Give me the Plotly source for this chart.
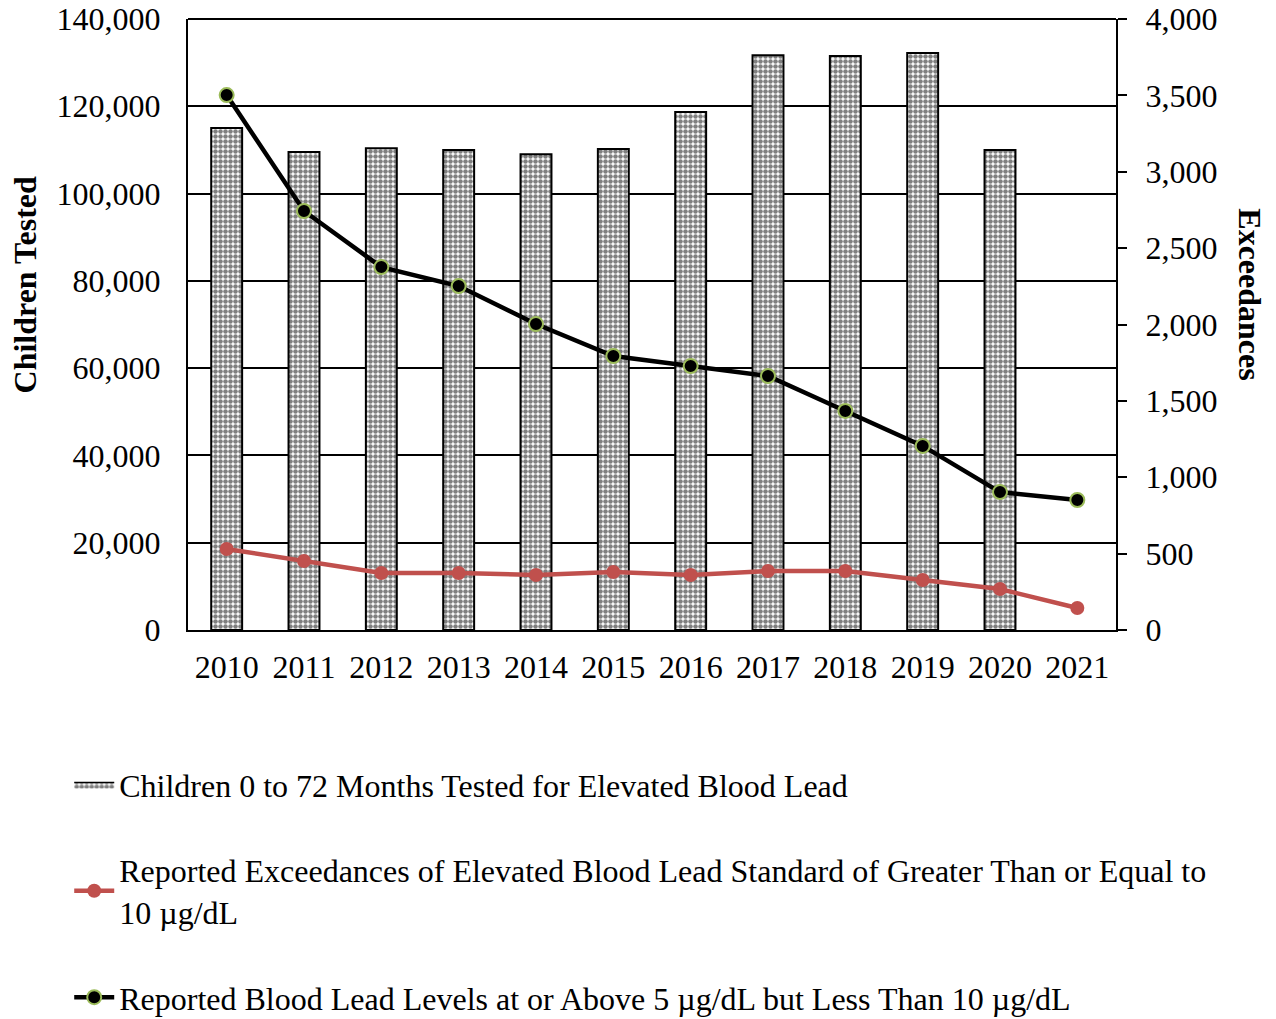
import plotly.graph_objects as go

years = ["2010", "2011", "2012", "2013", "2014", "2015", "2016", "2017", "2018", "2019", "2020", "2021"]
children_tested = [115000, 109500, 110400, 110000, 109000, 110200, 118700, 131700, 131500, 132200, 110000, None]
exceed_10 = [530, 452, 373, 373, 360, 380, 360, 386, 386, 327, 268, 144]
levels_5_10 = [3502, 2743, 2376, 2252, 2003, 1794, 1728, 1663, 1434, 1205, 903, 851]

name_bar = "Children 0 to 72 Months Tested for Elevated Blood Lead"
name_red = "Reported Exceedances of Elevated Blood Lead Standard of Greater Than or Equal to<br>10 µg/dL"
name_black = "Reported Blood Lead Levels at or Above 5 µg/dL but Less Than 10 µg/dL"

FONT = "Liberation Serif"
FS = 32
PATTERN = dict(shape=".", fgcolor="black", bgcolor="white", size=5, solidity=0.65)

fig = go.Figure()
fig.add_trace(go.Bar(
    x=years, y=children_tested, name=name_bar, legendgroup="a", showlegend=False,
    marker=dict(color="white", line=dict(color="black", width=2), pattern=PATTERN),
    width=0.4, yaxis="y"))
# legend swatch for the bars: a single-point fill trace draws nothing on the plot
fig.add_trace(go.Scatter(
    x=years[:1], y=children_tested[:1], name=name_bar, legendgroup="a", mode="lines",
    fill="toself", fillcolor="white", fillpattern=PATTERN,
    line=dict(color="black", width=1.5), hoverinfo="skip", yaxis="y"))
fig.add_trace(go.Scatter(
    x=years, y=exceed_10, name=name_red, legendgroup="b", mode="lines+markers",
    line=dict(color="#C0504D", width=4.5),
    marker=dict(color="#C0504D", size=14), yaxis="y2"))
fig.add_trace(go.Scatter(
    x=years, y=levels_5_10, name=name_black, legendgroup="c", mode="lines+markers",
    line=dict(color="black", width=4.5),
    marker=dict(color="black", size=14, line=dict(color="#9BBB59", width=2)), yaxis="y2"))

fig.update_layout(
    width=1276, height=1019,
    margin=dict(l=188, r=160, t=19, b=389, autoexpand=False),
    paper_bgcolor="white", plot_bgcolor="white",
    font=dict(family=FONT, size=FS, color="black"),
    xaxis=dict(type="category", categoryorder="array", categoryarray=years,
               range=[-0.5, len(years) - 0.5],
               showline=True, linecolor="black", linewidth=2,
               ticks="", ticklabelstandoff=8, showgrid=False, automargin=False),
    yaxis=dict(range=[0, 140000], dtick=20000, tickformat=",", showgrid=True,
               gridcolor="black", gridwidth=1.5, showline=True, linecolor="black",
               linewidth=2, mirror=False, ticks="", ticklabelstandoff=19, zeroline=False,
               automargin=False, ticklabeloverflow="allow"),
    yaxis2=dict(range=[0, 4000], dtick=500, tickformat=",", overlaying="y", side="right",
                showgrid=False, showline=True, linecolor="black", linewidth=2,
                ticks="outside", ticklen=9, tickcolor="black", tickwidth=2,
                ticklabelstandoff=12, zeroline=False, automargin=False,
                ticklabeloverflow="allow"),
    legend=dict(orientation="v", x=-0.128, xanchor="left", y=-0.208, yanchor="top",
                traceorder="grouped", tracegroupgap=41, font=dict(family=FONT, size=FS),
                itemwidth=40, bgcolor="rgba(0,0,0,0)"),
    annotations=[
        dict(text="<b>Children Tested</b>", x=-0.176, y=0.565, xref="paper", yref="paper",
             xanchor="center", yanchor="middle",
             textangle=-90, showarrow=False, font=dict(family=FONT, size=FS)),
        dict(text="<b>Exceedances</b>", x=1.144, y=0.55, xref="paper", yref="paper",
             xanchor="center", yanchor="middle",
             textangle=90, showarrow=False, font=dict(family=FONT, size=FS)),
    ],
    shapes=[dict(type="line", xref="paper", yref="paper", x0=0, x1=1, y0=1, y1=1,
                 line=dict(color="black", width=2))],
)

fig.write_html("out.html", config={"displayModeBar": False},
               post_script="document.body.style.margin='0';")
